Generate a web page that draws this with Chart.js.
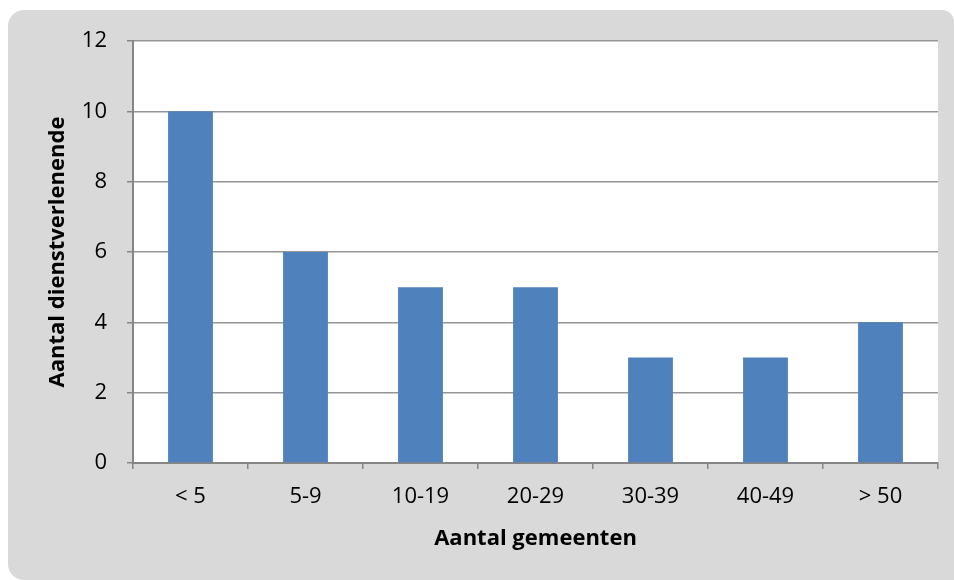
<!DOCTYPE html>
<html>
<head>
<meta charset="utf-8">
<script src="https://cdn.jsdelivr.net/npm/chart.js@4/dist/chart.umd.min.js"></script>
<style>
  html, body { margin: 0; padding: 0; background: #ffffff; }
  #wrap { width: 954px; height: 580px; }
</style>
</head>
<body>
<div id="wrap"><canvas id="chart" width="954" height="580"></canvas></div>
<script>
// chart data
const categories = ['< 5', '5-9', '10-19', '20-29', '30-39', '40-49', '> 50'];
const counts = [10, 6, 5, 5, 3, 3, 4];
const yTicks = [0, 2, 4, 6, 8, 10, 12];

const FONT = '"Open Sans", sans-serif';

// grey rounded panel behind everything, white plot area
const panelBg = {
  id: 'panelBg',
  beforeDraw(chart) {
    const ctx = chart.ctx;
    ctx.save();
    ctx.fillStyle = '#d9d9d9';
    ctx.beginPath();
    ctx.roundRect(8, 10, 946, 570, [16, 12, 0, 16]);
    ctx.fill();
    const a = chart.chartArea;
    ctx.fillStyle = '#ffffff';
    ctx.fillRect(a.left, a.top, a.right - a.left, a.bottom - a.top);
    ctx.restore();
  }
};

new Chart(document.getElementById('chart').getContext('2d'), {
  type: 'bar',
  data: {
    labels: categories,
    datasets: [{
      data: counts,
      backgroundColor: '#4f81bd',
      borderWidth: 0,
      barPercentage: 0.39,
      categoryPercentage: 1
    }]
  },
  options: {
    responsive: false,
    animation: false,
    devicePixelRatio: 1,
    layout: { padding: { left: 8, top: 41, right: 16, bottom: 0 } },
    plugins: {
      legend: { display: false },
      tooltip: { enabled: false }
    },
    scales: {
      x: {
        afterFit(scale) { scale.height = 117; },
        grid: {
          offset: true,
          drawOnChartArea: false,
          drawTicks: true,
          tickLength: 6,
          color: '#868686',
          lineWidth: 1.5
        },
        border: { color: '#868686', width: 2 },
        ticks: {
          color: '#000000',
          padding: 15,
          maxRotation: 0,
          font: { family: FONT, size: 22 }
        },
        title: {
          display: true,
          text: 'Aantal gemeenten',
          color: '#000000',
          font: { family: FONT, size: 22, weight: 'bold', lineHeight: 1.2 },
          padding: { top: 0, bottom: 28 }
        }
      },
      y: {
        min: 0,
        max: 12,
        afterFit(scale) { scale.width = 125; },
        afterBuildTicks(scale) { scale.ticks = yTicks.map(v => ({ value: v })); },
        grid: {
          color: '#969696',
          lineWidth: 1.5,
          drawTicks: true,
          tickLength: 6,
          tickColor: '#868686'
        },
        border: { color: '#868686', width: 2 },
        ticks: {
          color: '#000000',
          padding: 20,
          font: { family: FONT, size: 22 }
        },
        title: {
          display: true,
          text: 'Aantal dienstverlenende',
          color: '#000000',
          font: { family: FONT, size: 22, weight: 'bold', lineHeight: 1.2 },
          padding: { top: 37, bottom: 0 }
        }
      }
    }
  },
  plugins: [panelBg]
});
</script>
</body>
</html>
